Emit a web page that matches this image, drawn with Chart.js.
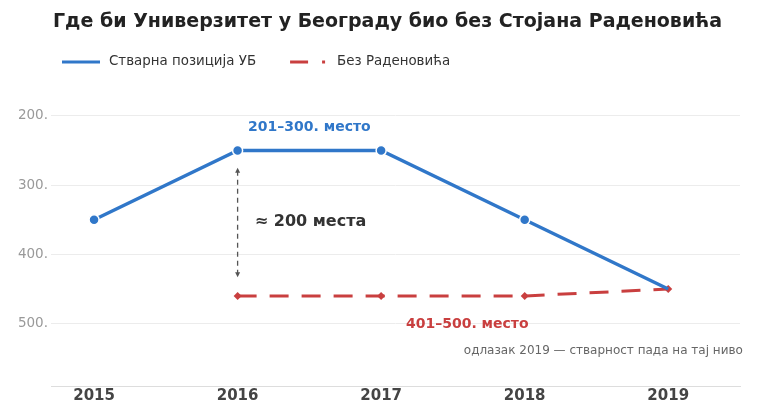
<!DOCTYPE html>
<html>
<head>
<meta charset="utf-8">
<script src="https://cdn.jsdelivr.net/npm/chart.js@4/dist/chart.umd.min.js"></script>
<style>
  html, body { margin: 0; padding: 0; background: #fff; }
  #wrap { width: 770px; height: 408px; }
</style>
</head>
<body>
<div id="wrap"><canvas id="rankChart"></canvas></div>
<script>
const years = [2015, 2016, 2017, 2018, 2019];
const actualRank = [350, 250, 250, 350, 450];
const withoutRank = [null, 460, 460, 460, 450];
const yTicks = [200, 300, 400, 500];

const TITLE = "Где би Универзитет у Београду био без Стојана Радeновића".replace("e", "е");
const BLUE = "#3077c9";
const RED = "#c93f3f";
const FONT = "'DejaVu Sans', sans-serif";

// notes on the chart, placed in data coordinates
const notes = [
    { text: "201–300. место", x: 2016.5, y: 217, color: BLUE, font: "bold 14px " + FONT, align: "center" },
    { text: "≈ 200 места", x: 2016.12, y: 353, color: "#333", font: "bold 16px " + FONT, align: "left" },
    { text: "401–500. место", x: 2017.6, y: 501, color: RED, font: "bold 14px " + FONT, align: "center" },
    { text: "одлазак 2019 — стварност пада на тај ниво", x: 2019.52, y: 540, color: "#666", font: "12px " + FONT, align: "right" }
];
const gapArrow = { x: 2016, from: 275, to: 433 };

function toPoints(values) {
    return years.map((yr, i) => ({ x: yr, y: values[i] }));
}

// title, custom legend, notes and arrow
const extras = {
    id: "extras",
    afterDraw(chart) {
        const ctx = chart.ctx;
        const xs = chart.scales.x, ys = chart.scales.y;
        ctx.save();

        // title
        ctx.font = "bold 19px " + FONT;
        ctx.fillStyle = "#222";
        ctx.textAlign = "center";
        ctx.textBaseline = "middle";
        ctx.fillText(TITLE, 387.5, 22);

        // legend
        let lx = 62;
        const ly = 62;
        chart.data.datasets.forEach((ds, i) => {
            ctx.beginPath();
            ctx.strokeStyle = ds.borderColor;
            ctx.lineWidth = 3;
            ctx.setLineDash(i === 0 ? [] : [18, 14, 3, 100]);
            ctx.moveTo(lx, ly);
            ctx.lineTo(lx + 38, ly);
            ctx.stroke();
            ctx.setLineDash([]);
            ctx.font = "13.4px " + FONT;
            ctx.fillStyle = "#333";
            ctx.textAlign = "left";
            ctx.textBaseline = "middle";
            ctx.fillText(ds.label, lx + 47, ly);
            lx += 47 + ctx.measureText(ds.label).width + 34;
        });

        // gap arrow
        const ax = xs.getPixelForValue(gapArrow.x);
        const a1 = ys.getPixelForValue(gapArrow.from);
        const a2 = ys.getPixelForValue(gapArrow.to);
        ctx.strokeStyle = "#555";
        ctx.fillStyle = "#555";
        ctx.lineWidth = 1.3;
        ctx.setLineDash([5, 4]);
        ctx.beginPath();
        ctx.moveTo(ax, a1 + 3);
        ctx.lineTo(ax, a2 - 3);
        ctx.stroke();
        ctx.setLineDash([]);
        [[a1, 1], [a2, -1]].forEach(([py, dir]) => {
            ctx.beginPath();
            ctx.moveTo(ax, py);
            ctx.lineTo(ax - 2.5, py + dir * 5);
            ctx.lineTo(ax + 2.5, py + dir * 5);
            ctx.closePath();
            ctx.fill();
        });

        // notes
        notes.forEach(n => {
            ctx.font = n.font;
            ctx.fillStyle = n.color;
            ctx.textAlign = n.align;
            ctx.textBaseline = "middle";
            ctx.fillText(n.text, xs.getPixelForValue(n.x), ys.getPixelForValue(n.y));
        });
        ctx.restore();
    }
};

new Chart(document.getElementById("rankChart"), {
    type: "line",
    data: {
        datasets: [
            {
                label: "Стварна позиција УБ",
                data: toPoints(actualRank),
                borderColor: BLUE,
                backgroundColor: BLUE,
                borderWidth: 3.5,
                pointRadius: [5, 5, 5, 5, 0],
                pointBorderColor: "#fff",
                pointBorderWidth: 1.5,
                pointBackgroundColor: BLUE,
                tension: 0
            },
            {
                label: "Без Радeновића".replace("e", "е"),
                data: toPoints(withoutRank),
                borderColor: RED,
                backgroundColor: RED,
                borderWidth: 3,
                borderDash: [19, 13],
                pointStyle: "rectRot",
                pointRadius: 4,
                pointBorderColor: RED,
                pointBackgroundColor: RED,
                pointBorderWidth: 0,
                spanGaps: false,
                tension: 0
            }
        ]
    },
    options: {
        responsive: true,
        maintainAspectRatio: false,
        animation: false,
        layout: { padding: { left: 0, right: 30, top: 95, bottom: 0 } },
        plugins: {
            legend: { display: false },
            tooltip: { enabled: false },
            title: { display: false }
        },
        scales: {
            x: {
                type: "linear",
                min: 2014.7,
                max: 2019.5,
                afterBuildTicks: s => { s.ticks = years.map(v => ({ value: v })); },
                afterFit: s => { s.height = 22; },
                grid: { display: false, drawTicks: false },
                border: { display: true, color: "#ddd", width: 1 },
                ticks: {
                    padding: 1,
                    color: "#444",
                    font: { family: FONT, size: 15, weight: "bold" },
                    callback: v => String(v)
                }
            },
            y: {
                reverse: true,
                min: 170,
                max: 590,
                afterBuildTicks: s => { s.ticks = yTicks.map(v => ({ value: v })); },
                afterFit: s => { s.width = 51; },
                grid: { color: "#ececec", drawTicks: false },
                border: { display: false },
                ticks: {
                    padding: 3,
                    color: "#999",
                    font: { family: FONT, size: 13.5 },
                    callback: v => v + "."
                }
            }
        }
    },
    plugins: [extras]
});
</script>
</body>
</html>
